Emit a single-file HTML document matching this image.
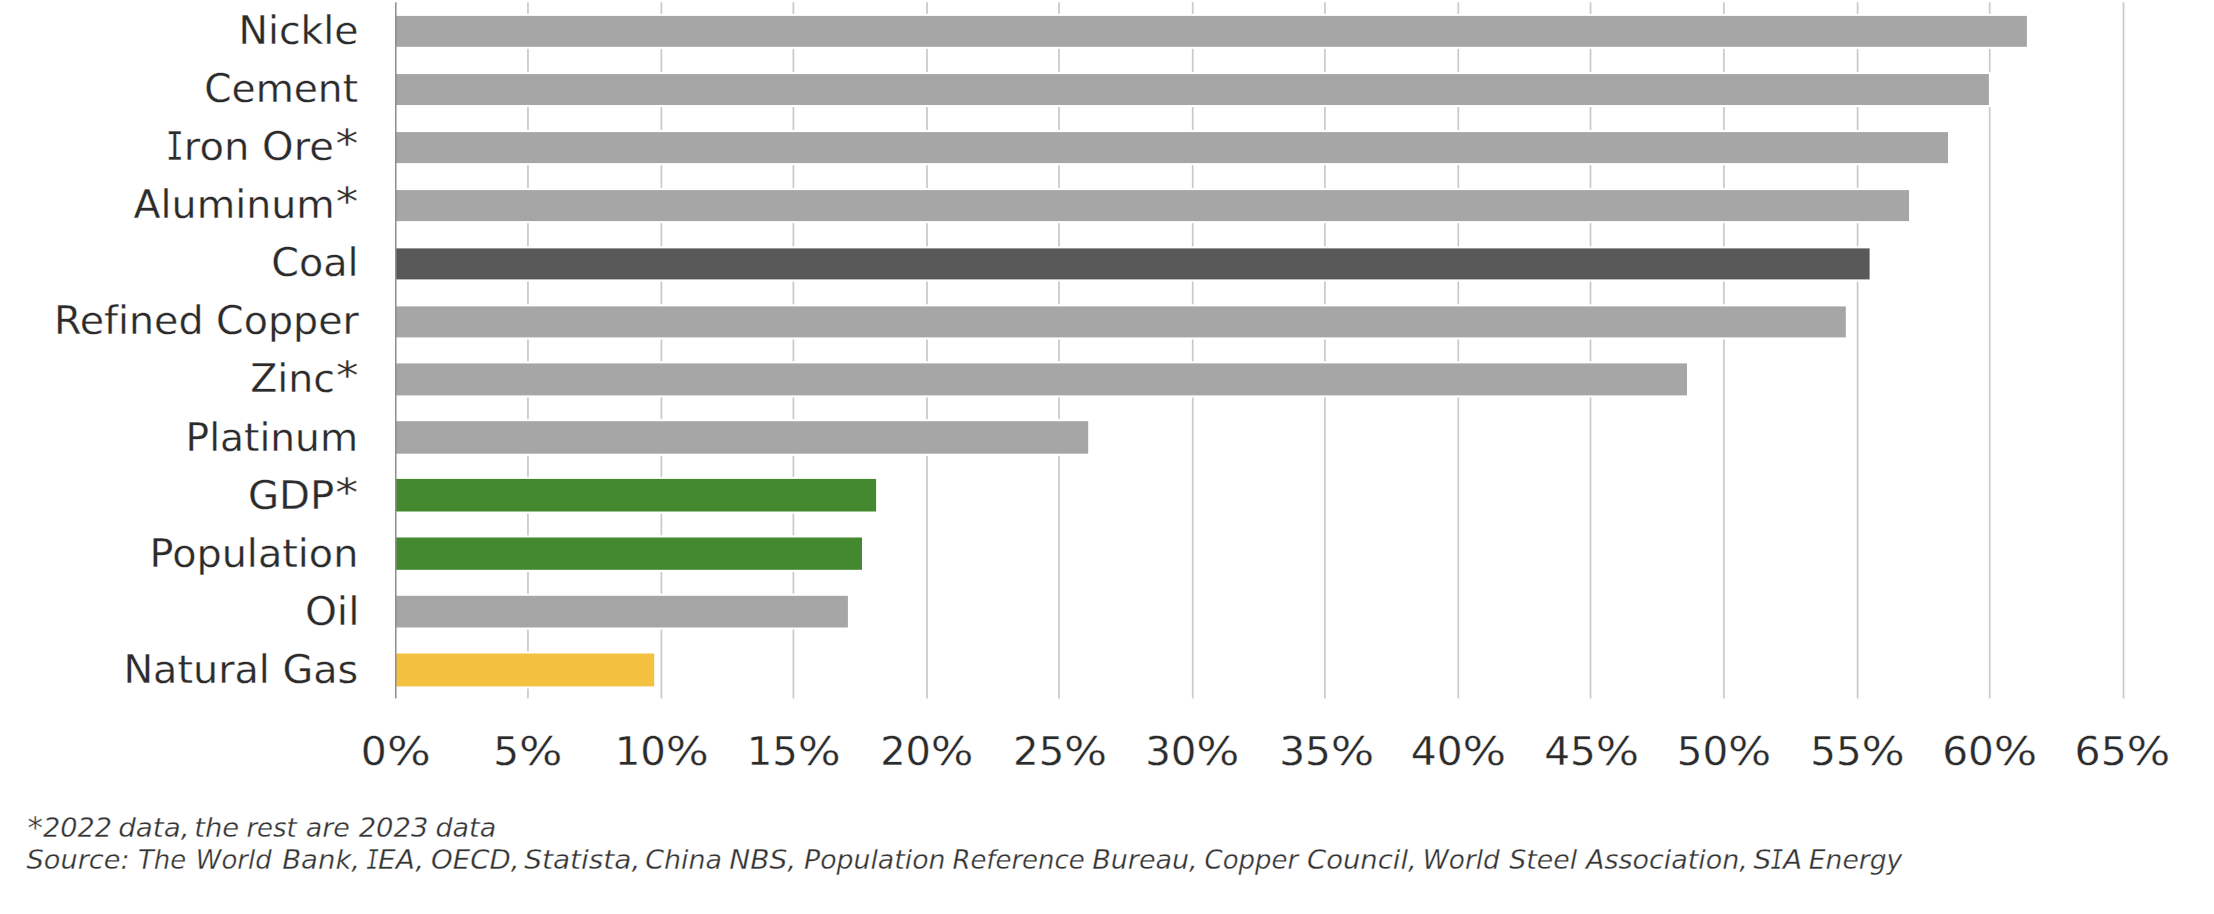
<!DOCTYPE html>
<html lang="en"><head><meta charset="utf-8"><title>Chart</title>
<style>
html,body{margin:0;padding:0;background:#fff;}
body{width:2214px;height:914px;position:relative;overflow:hidden;font-family:"DejaVu Sans","Liberation Sans",sans-serif;color:#2b2b2b;-webkit-text-stroke:0.3px #fff;font-variant-ligatures:none;font-feature-settings:"liga" 0,"clig" 0;}
.l{position:absolute;white-space:nowrap;text-align:right;font-size:38.4px;line-height:48px;height:48px;transform-origin:100% 50%;}
.t{position:absolute;white-space:nowrap;text-align:center;font-size:38.4px;line-height:48px;height:48px;width:200px;transform-origin:50% 50%;}
.f{position:absolute;white-space:nowrap;font-style:italic;color:#333;-webkit-text-stroke:0.3px #fff;font-size:26.2px;line-height:32px;height:32px;transform-origin:0 50%;}
.w{position:absolute;top:0;transform-origin:0 50%;white-space:nowrap;}
.sj{font-family:"DejaVu Sans Mono","Liberation Mono",monospace;display:inline-block;transform:scaleX(0.75);margin:0 -2.4px;}
.as{font-size:1.14em;line-height:0;position:relative;top:0.04em;}
.a2{display:inline-block;transform:scaleX(1.14);transform-origin:100% 50%;position:relative;top:-0.07em;margin-left:0.1em;}
.p{display:inline-block;transform:scaleX(1.127);transform-origin:0 50%;}
.si{font-family:"DejaVu Sans Mono","Liberation Mono",monospace;display:inline-block;transform:scaleX(0.75);transform-origin:100% 50%;margin-right:0.00px;}
</style></head><body>

<svg width="2214" height="914" viewBox="0 0 2214 914" style="position:absolute;left:0;top:0">
<rect x="527.10" y="2.3" width="1.70" height="696.1" fill="#c9c9c9"/>
<rect x="660.55" y="2.3" width="1.70" height="696.1" fill="#c9c9c9"/>
<rect x="792.55" y="2.3" width="1.70" height="696.1" fill="#c9c9c9"/>
<rect x="926.15" y="2.3" width="1.70" height="696.1" fill="#c9c9c9"/>
<rect x="1058.15" y="2.3" width="1.70" height="696.1" fill="#c9c9c9"/>
<rect x="1191.85" y="2.3" width="1.70" height="696.1" fill="#c9c9c9"/>
<rect x="1324.05" y="2.3" width="1.70" height="696.1" fill="#c9c9c9"/>
<rect x="1457.45" y="2.3" width="1.70" height="696.1" fill="#c9c9c9"/>
<rect x="1589.65" y="2.3" width="1.70" height="696.1" fill="#c9c9c9"/>
<rect x="1723.05" y="2.3" width="1.70" height="696.1" fill="#c9c9c9"/>
<rect x="1856.75" y="2.3" width="1.70" height="696.1" fill="#c9c9c9"/>
<rect x="1988.85" y="2.3" width="1.70" height="696.1" fill="#c9c9c9"/>
<rect x="2122.65" y="2.3" width="1.70" height="696.1" fill="#c9c9c9"/>
<rect x="395.80" y="13.80" width="1633.20" height="35.10" fill="#fff"/>
<rect x="395.80" y="15.90" width="1631.10" height="30.90" fill="#a6a6a6"/>
<rect x="395.80" y="71.95" width="1595.20" height="35.15" fill="#fff"/>
<rect x="395.80" y="74.05" width="1593.10" height="30.95" fill="#a6a6a6"/>
<rect x="395.80" y="130.00" width="1554.30" height="35.20" fill="#fff"/>
<rect x="395.80" y="132.10" width="1552.20" height="31.00" fill="#a6a6a6"/>
<rect x="395.80" y="188.00" width="1515.30" height="35.20" fill="#fff"/>
<rect x="395.80" y="190.10" width="1513.20" height="31.00" fill="#a6a6a6"/>
<rect x="395.80" y="246.30" width="1475.90" height="35.20" fill="#fff"/>
<rect x="395.80" y="248.40" width="1473.80" height="31.00" fill="#595959"/>
<rect x="395.80" y="304.30" width="1452.10" height="35.20" fill="#fff"/>
<rect x="395.80" y="306.40" width="1450.00" height="31.00" fill="#a6a6a6"/>
<rect x="395.80" y="361.30" width="1293.30" height="36.20" fill="#fff"/>
<rect x="395.80" y="363.40" width="1291.20" height="32.00" fill="#a6a6a6"/>
<rect x="395.80" y="419.10" width="694.50" height="36.70" fill="#fff"/>
<rect x="395.80" y="421.20" width="692.40" height="32.50" fill="#a6a6a6"/>
<rect x="395.80" y="476.80" width="482.40" height="36.80" fill="#fff"/>
<rect x="395.80" y="478.90" width="480.30" height="32.60" fill="#448930"/>
<rect x="395.80" y="535.40" width="468.30" height="36.50" fill="#fff"/>
<rect x="395.80" y="537.50" width="466.20" height="32.30" fill="#448930"/>
<rect x="395.80" y="593.70" width="454.20" height="35.90" fill="#fff"/>
<rect x="395.80" y="595.80" width="452.10" height="31.70" fill="#a6a6a6"/>
<rect x="395.80" y="651.40" width="260.50" height="37.10" fill="#fff"/>
<rect x="395.80" y="653.50" width="258.40" height="32.90" fill="#f4c040"/>
<rect x="395.07" y="2.3" width="1.45" height="696.1" fill="#8a8a8a"/>
</svg>
<div class="l" style="right:1856px;top:7px;transform:translateX(0.46px) scaleX(1.0252)">Nickle</div>
<div class="l" style="right:1856px;top:65px;transform:translateX(0.19px) scaleX(1.0194)">Cement</div>
<div class="l" style="right:1856px;top:123px;transform:translateX(0.06px) scaleX(1.0439)"><span class="si">I</span>ron Ore<span class="a2">*</span></div>
<div class="l" style="right:1856px;top:181px;transform:translateX(0.06px) scaleX(1.0297)">Aluminum<span class="a2">*</span></div>
<div class="l" style="right:1856px;top:239px;transform:translateX(0.14px) scaleX(1.0348)">Coal</div>
<div class="l" style="right:1855px;top:297px;transform:translateX(0.05px) scaleX(1.0304)">Refined Copper</div>
<div class="l" style="right:1856px;top:355px;transform:translateX(0.27px) scaleX(1.0284)">Zinc<span class="a2">*</span></div>
<div class="l" style="right:1856px;top:414px;transform:translateX(-0.11px) scaleX(1.0197)">Platinum</div>
<div class="l" style="right:1856px;top:472px;transform:translateX(-0.02px) scaleX(1.0483)">GDP<span class="a2">*</span></div>
<div class="l" style="right:1855px;top:530px;transform:translateX(-0.35px) scaleX(1.0349)">Population</div>
<div class="l" style="right:1854px;top:588px;transform:translateX(-0.11px) scaleX(1.0581)">Oil</div>
<div class="l" style="right:1856px;top:646px;transform:translateX(0.23px) scaleX(1.0344)">Natural Gas</div>
<div class="t" style="left:293px;top:728px;transform:translateX(0.29px) scaleX(1.0664)">0<span class="p">%</span></div>
<div class="t" style="left:425px;top:728px;transform:translateX(0.39px) scaleX(1.0573)">5<span class="p">%</span></div>
<div class="t" style="left:559px;top:728px;transform:translateX(0.42px) scaleX(1.0476)">10<span class="p">%</span></div>
<div class="t" style="left:691px;top:728px;transform:translateX(0.41px) scaleX(1.0461)">15<span class="p">%</span></div>
<div class="t" style="left:824px;top:728px;transform:translateX(0.50px) scaleX(1.0395)">20<span class="p">%</span></div>
<div class="t" style="left:958px;top:728px;transform:translateX(-0.18px) scaleX(1.0493)">25<span class="p">%</span></div>
<div class="t" style="left:1090px;top:728px;transform:translateX(0.00px) scaleX(1.0497)">30<span class="p">%</span></div>
<div class="t" style="left:1224px;top:728px;transform:translateX(0.32px) scaleX(1.0586)">35<span class="p">%</span></div>
<div class="t" style="left:1356px;top:728px;transform:translateX(0.20px) scaleX(1.0626)">40<span class="p">%</span></div>
<div class="t" style="left:1489px;top:728px;transform:translateX(0.40px) scaleX(1.0566)">45<span class="p">%</span></div>
<div class="t" style="left:1622px;top:728px;transform:translateX(-0.25px) scaleX(1.0533)">50<span class="p">%</span></div>
<div class="t" style="left:1755px;top:728px;transform:translateX(0.23px) scaleX(1.0527)">55<span class="p">%</span></div>
<div class="t" style="left:1887px;top:728px;transform:translateX(0.31px) scaleX(1.0582)">60<span class="p">%</span></div>
<div class="t" style="left:2020px;top:728px;transform:translateX(0.11px) scaleX(1.0669)">65<span class="p">%</span></div>
<div class="f" style="left:0;top:811.90px;width:2214px">
<span class="w" style="left:27px;transform:translateX(0.47px) scaleX(1.0356)"><span class="as">*</span>2022</span> <span class="w" style="left:118px;transform:translateX(0.18px) scaleX(1.0610)">data,</span> <span class="w" style="left:194px;transform:translateX(0.28px) scaleX(1.0447)">the</span> <span class="w" style="left:246px;transform:translateX(0.41px) scaleX(0.9900)">rest</span> <span class="w" style="left:306px;transform:translateX(-0.32px) scaleX(1.0277)">are</span> <span class="w" style="left:359px;transform:translateX(-0.33px) scaleX(1.0445)">2023</span> <span class="w" style="left:436px;transform:translateX(-0.48px) scaleX(1.0274)">data</span>
</div>
<div class="f" style="left:0;top:843.80px;width:2214px">
<span class="w" style="left:27px;transform:translateX(-0.42px) scaleX(1.0377)">Source:</span> <span class="w" style="left:138px;transform:translateX(0.02px) scaleX(0.9900)">The</span> <span class="w" style="left:196px;transform:translateX(-0.15px) scaleX(0.9900)">World</span> <span class="w" style="left:282px;transform:translateX(0.19px) scaleX(1.0512)">Bank,</span> <span class="w" style="left:366px;transform:translateX(0.20px) scaleX(1.0700)"><span class="sj">I</span>EA,</span> <span class="w" style="left:431px;transform:translateX(0.09px) scaleX(1.0537)">OECD,</span> <span class="w" style="left:524px;transform:translateX(0.17px) scaleX(1.0678)">Statista,</span> <span class="w" style="left:645px;transform:translateX(0.20px) scaleX(1.0271)">China</span> <span class="w" style="left:729px;transform:translateX(0.33px) scaleX(1.0700)">NBS,</span> <span class="w" style="left:804px;transform:translateX(0.01px) scaleX(1.0213)">Population</span> <span class="w" style="left:952px;transform:translateX(0.39px) scaleX(0.9900)">Reference</span> <span class="w" style="left:1092px;transform:translateX(0.20px) scaleX(1.0301)">Bureau,</span> <span class="w" style="left:1205px;transform:translateX(-0.43px) scaleX(0.9900)">Copper</span> <span class="w" style="left:1307px;transform:translateX(-0.02px) scaleX(1.0477)">Council,</span> <span class="w" style="left:1423px;transform:translateX(-0.18px) scaleX(1.0046)">World</span> <span class="w" style="left:1509px;transform:translateX(0.18px) scaleX(1.0227)">Steel</span> <span class="w" style="left:1586px;transform:translateX(0.10px) scaleX(1.0272)">Association,</span> <span class="w" style="left:1753px;transform:translateX(0.42px) scaleX(1.0700)">S<span class="sj">I</span>A</span> <span class="w" style="left:1809px;transform:translateX(-0.18px) scaleX(1.0142)">Energy</span>
</div>
</body></html>
